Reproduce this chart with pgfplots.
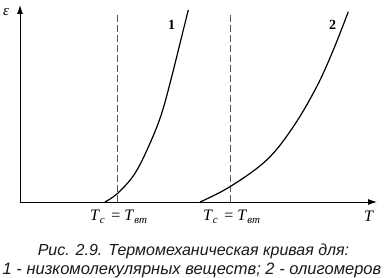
\documentclass[border=0pt]{standalone}
\usepackage{pgfplots}
\pgfplotsset{compat=1.18}
\usetikzlibrary{arrows.meta}
\usepackage{fontspec}
\setmainfont{Liberation Serif}
\newfontfamily\capfont{Liberation Sans}
\newcommand{\Tlab}{\textit{T}\raisebox{-0.45ex}{\fontsize{11}{12}\selectfont\textit{c}}\, = \textit{T}\raisebox{-0.45ex}{\fontsize{11}{12}\selectfont\textit{вт}}}
\begin{document}
\begin{tikzpicture}[x=1pt,y=1pt]
\path[use as bounding box] (0,0) rectangle (385,278);
\begin{axis}[
  at={(20pt,76pt)}, anchor=south west,
  scale only axis, width=357pt, height=197pt,
  xmin=0, xmax=357, ymin=0, ymax=197,
  axis lines=left,
  axis line style={line width=0.9pt, -{Latex[length=9pt,width=6pt]}},
  xtick=\empty, ytick=\empty,
  clip=false,
]
\addplot[gray!70!black, line width=0.9pt, dash pattern=on 7pt off 3pt] coordinates {(97.7,0) (97.7,190)};
\addplot[gray!70!black, line width=0.9pt, dash pattern=on 7pt off 3pt] coordinates {(210.7,0) (210.7,190)};
\addplot[black, line width=1.2pt, smooth, tension=0.6] coordinates {(85,0) (98.3,9.3) (115,28.7) (130,58.7) (141.7,88.7) (151.7,125.3) (160,158.7) (168.3,192)};
\addplot[black, line width=1.2pt, smooth, tension=0.6] coordinates {(180,0) (210,15.3) (246.7,42) (273.3,75.3) (296.7,115.3) (313.3,152) (328.3,190.3)};
\node at (axis cs:151.7,177) {\fontsize{14}{16}\selectfont\textbf{1}};
\node at (axis cs:312.7,177) {\fontsize{14}{16}\selectfont\textbf{2}};
\node at (axis cs:98.5,-15) {\fontsize{16}{18}\selectfont\Tlab};
\node at (axis cs:211.5,-15) {\fontsize{16}{18}\selectfont\Tlab};
\node at (axis cs:349,-14) {\fontsize{16}{18}\selectfont\textit{T}};
\node at (axis cs:-14,190) {\fontsize{15}{17}\selectfont\textit{ε}};
\end{axis}
\node[gray!20!black] at (193.5,27) {\capfont\itshape\fontsize{16}{18}\selectfont Рис. 2.9. Термомеханическая кривая для:};
\node[gray!20!black] at (192,8) {\capfont\itshape\fontsize{16.5}{18}\selectfont 1 - низкомолекулярных веществ; 2 - олигомеров};
\end{tikzpicture}
\end{document}
